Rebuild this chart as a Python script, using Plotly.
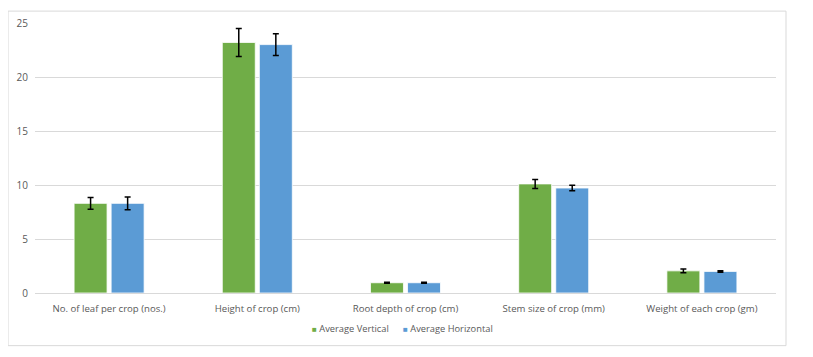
import plotly.graph_objects as go

# values
categories = ["No. of leaf per crop (nos.)", "Height of crop (cm)", "Root depth of crop (cm)",
              "Stem size of crop (mm)", "Weight of each crop (gm)"]
vertical = [8.3, 23.2, 0.95, 10.1, 2.05]
vertical_err = [0.55, 1.3, 0.05, 0.42, 0.18]
horizontal = [8.3, 23.0, 0.95, 9.72, 2.0]
horizontal_err = [0.6, 1.0, 0.05, 0.25, 0.07]
y_ticks = [0, 5, 10, 15, 20, 25]

green = "#70AD47"
blue = "#5B9BD5"
textcol = "#595959"

fig = go.Figure()
fig.add_trace(go.Bar(
    x=categories, y=vertical, name="Average Vertical",
    marker=dict(color=green, line=dict(color="white", width=0.8)),
    error_y=dict(type="data", array=vertical_err, color="black", thickness=1.5, width=3),
))
fig.add_trace(go.Bar(
    x=categories, y=horizontal, name="Average Horizontal",
    marker=dict(color=blue, line=dict(color="white", width=0.8)),
    error_y=dict(type="data", array=horizontal_err, color="black", thickness=1.5, width=3),
))

# outer chart frame
fig.add_shape(type="rect", xref="paper", yref="paper",
              x0=-0.0364, x1=1.0135, y0=-0.195, y1=1.044,
              line=dict(color="#D9D9D9", width=1), fillcolor="rgba(0,0,0,0)", layer="below")

# excel-style legend with small square markers
for tr, xpos in zip(fig.data, [0.371, 0.494]):
    fig.add_annotation(
        xref="paper", yref="paper", x=xpos, y=-0.133, xanchor="left", yanchor="middle",
        showarrow=False, font=dict(size=9.3, color=textcol),
        text=f"<span style='color:{tr.marker.color};font-size:8px'>■</span> {tr.name}",
    )

# page body adds an 8px offset, so the figure is a bit smaller with shifted margins
fig.update_layout(
    width=805, height=349,
    margin=dict(l=27, r=37, t=15, b=64, autoexpand=False),
    paper_bgcolor="white", plot_bgcolor="white",
    barmode="group", bargap=0.5, bargroupgap=0.11,
    font=dict(family="Open Sans", size=10, color=textcol),
    showlegend=False,
    xaxis=dict(showgrid=False, showline=True, linecolor="#D9D9D9", ticks="", automargin=False,
               ticklabelstandoff=6, tickfont=dict(size=9.6, color=textcol)),
    yaxis=dict(range=[0, 25], tickvals=y_ticks, showgrid=True, gridcolor="#D9D9D9",
               zeroline=False, showline=False, ticks="", ticklabelstandoff=6, automargin=False,
               tickfont=dict(size=10, color=textcol)),
)

fig.write_html("out.html")
